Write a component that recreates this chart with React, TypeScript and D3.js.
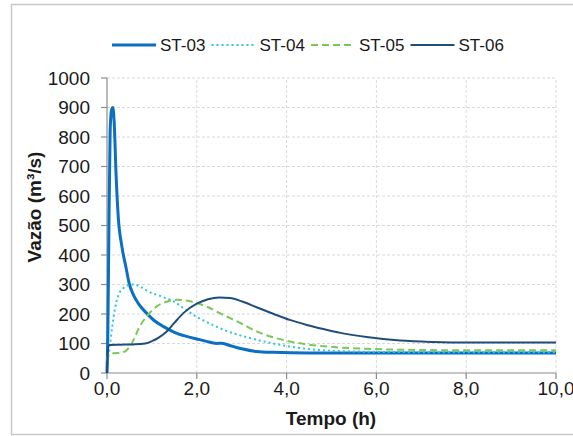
import React from "react";
import * as d3 from "d3";

const seriesNames = ["ST-03", "ST-04", "ST-05", "ST-06"];

const st03T = [0, 0.02, 0.04, 0.07, 0.1, 0.13, 0.16, 0.2, 0.25, 0.33, 0.42, 0.5, 0.57, 0.7, 0.88, 1.05, 1.25, 1.5, 1.75, 2.07, 2.3, 2.45, 2.55, 2.7, 3.0, 3.33, 3.7, 4.5, 6, 8, 10];
const st03V = [0, 150, 450, 820, 890, 900, 850, 680, 530, 430, 360, 300, 271, 235, 203, 178, 158, 138, 125, 113, 104, 100, 101, 95, 82, 73, 70, 68, 68, 68, 68];

const st04T = [0, 0.03, 0.07, 0.12, 0.18, 0.25, 0.36, 0.5, 0.6, 0.75, 0.9, 1.2, 1.48, 1.75, 2.0, 2.3, 2.59, 3.0, 3.33, 3.7, 4.07, 4.5, 4.8, 5.5, 6.5, 8, 10];
const st04V = [40, 55, 100, 160, 220, 262, 287, 299, 300, 292, 278, 260, 243, 215, 190, 167, 147, 126, 113, 100, 90, 81, 77, 73, 71, 70, 70];

const st05T = [0, 0.03, 0.1, 0.25, 0.4, 0.55, 0.73, 0.9, 1.1, 1.3, 1.55, 1.85, 2.22, 2.59, 3.0, 3.33, 3.7, 4.07, 4.5, 5.04, 5.8, 6.5, 8, 10];
const st05V = [45, 68, 67, 68, 73, 100, 158, 195, 225, 240, 248, 243, 225, 197, 167, 141, 121, 107, 96, 88, 82, 79, 77, 77];

const st06T = [0, 0.03, 0.06, 0.3, 0.6, 0.85, 1.0, 1.15, 1.33, 1.5, 1.7, 2.0, 2.25, 2.5, 2.74, 3.0, 3.33, 3.7, 4.07, 4.45, 4.82, 5.2, 5.78, 6.53, 7.27, 8, 10];
const st06V = [0, 90, 95, 96, 97, 100, 108, 120, 141, 170, 203, 235, 250, 256, 254, 243, 223, 201, 180, 163, 149, 136, 122, 110, 105, 103, 103];

const xTicks = [0, 2, 4, 6, 8, 10];
const yTicks = [0, 100, 200, 300, 400, 500, 600, 700, 800, 900, 1000];

const FONT = "'Liberation Sans', Arial, sans-serif";

export default function App() {
  const x = d3.scaleLinear().domain([0, 10]).range([107, 556]);
  const y = d3.scaleLinear().domain([0, 1000]).range([373, 78]);

  const makeLine = (ts: number[], vs: number[]) =>
    d3
      .line<number>()
      .x((_, i) => x(ts[i]))
      .y((v) => y(v))
      .curve(d3.curveMonotoneX)(vs) || "";

  const series = [
    { name: seriesNames[0], d: makeLine(st03T, st03V), color: "#0B6FC4", width: 3, dash: "" },
    { name: seriesNames[1], d: makeLine(st04T, st04V), color: "#2DC6DA", width: 2, dash: "2,3" },
    { name: seriesNames[2], d: makeLine(st05T, st05V), color: "#7AC855", width: 2, dash: "7,4" },
    { name: seriesNames[3], d: makeLine(st06T, st06V), color: "#1F4E7C", width: 2, dash: "" },
  ];

  const fmt = (v: number) => v.toFixed(1).replace(".", ",");

  return (
    <svg
      width={573}
      height={436}
      style={{ position: "absolute", left: 0, top: 0, background: "#fff" }}
      fontFamily={FONT}
    >
      <rect x={11.5} y={4.5} width={580} height={430} fill="#fff" stroke="#c8c8c8" strokeWidth={1.5} />

      {/* grid */}
      {yTicks.filter((t) => t > 0).map((t) => (
        <line key={"gy" + t} x1={x(0)} x2={x(10)} y1={y(t)} y2={y(t)} stroke="#d9d9d9" strokeDasharray="3,2" />
      ))}
      {xTicks.filter((t) => t > 0).map((t) => (
        <line key={"gx" + t} x1={x(t)} x2={x(t)} y1={y(0)} y2={y(1000)} stroke="#d9d9d9" strokeDasharray="3,2" />
      ))}

      {/* axes */}
      <line x1={x(0)} x2={x(0)} y1={y(0)} y2={y(1000)} stroke="#8c8c8c" strokeWidth={1.2} />
      <line x1={x(0)} x2={x(10)} y1={y(0)} y2={y(0)} stroke="#8c8c8c" strokeWidth={1.2} />
      {yTicks.map((t) => (
        <g key={"ty" + t}>
          <line x1={x(0) - 6} x2={x(0)} y1={y(t)} y2={y(t)} stroke="#8c8c8c" strokeWidth={1.2} />
          <text x={90} y={y(t)} dy="0.35em" textAnchor="end" fontSize={19} fill="#1a1a1a">
            {t}
          </text>
        </g>
      ))}
      {xTicks.map((t) => (
        <g key={"tx" + t}>
          <line x1={x(t)} x2={x(t)} y1={y(0)} y2={y(0) + 6} stroke="#8c8c8c" strokeWidth={1.2} />
          <text x={x(t)} y={395} textAnchor="middle" fontSize={19} fill="#1a1a1a">
            {fmt(t)}
          </text>
        </g>
      ))}

      {/* series */}
      {series.map((s) => (
        <path
          key={s.name}
          d={s.d}
          fill="none"
          stroke={s.color}
          strokeWidth={s.width}
          strokeDasharray={s.dash}
          strokeLinejoin="round"
        />
      ))}

      {/* titles */}
      <text x={331} y={425} textAnchor="middle" fontSize={19} fontWeight="bold" fill="#1a1a1a">
        Tempo (h)
      </text>
      <text
        transform="translate(41,207) rotate(-90)"
        textAnchor="middle"
        fontSize={19}
        fontWeight="bold"
        fill="#1a1a1a"
      >
        Vazão (m³/s)
      </text>

      {/* legend */}
      {series.map((s, i) => (
        <g key={"lg" + s.name} transform={`translate(${112 + i * 99.5},45)`}>
          <line x1={0} x2={44} y1={0} y2={0} stroke={s.color} strokeWidth={s.width} strokeDasharray={s.dash} />
          <text x={48} y={0} dy="0.35em" fontSize={17} fill="#1a1a1a">
            {s.name}
          </text>
        </g>
      ))}
    </svg>
  );
}
